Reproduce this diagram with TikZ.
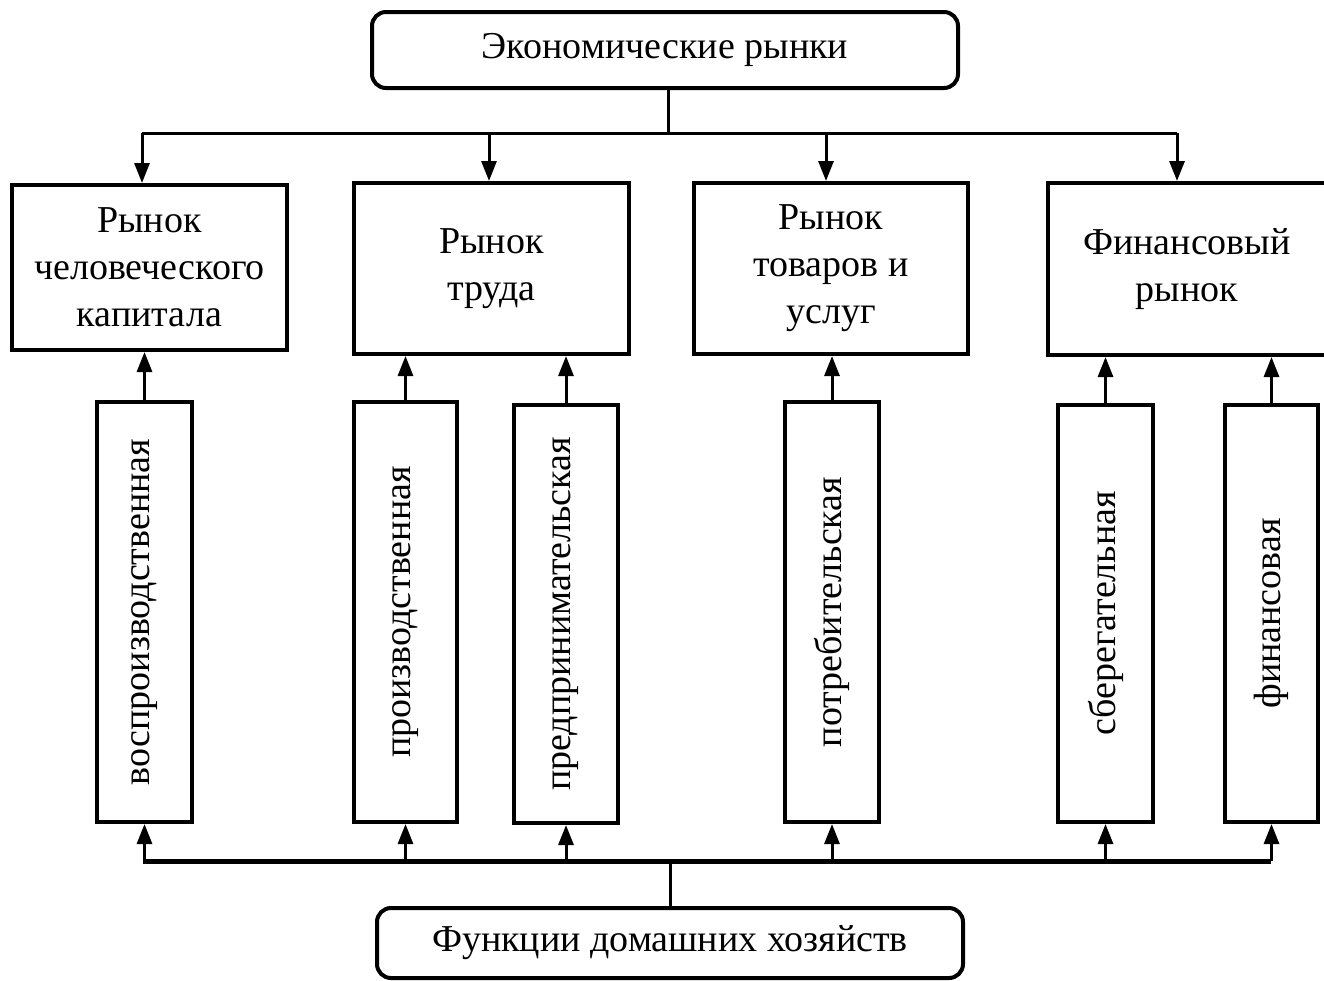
\documentclass[tikz,border=0pt]{standalone}
\usepackage{fontspec}
\setmainfont{Liberation Serif}
\usetikzlibrary{arrows.meta}
\begin{document}
\begin{tikzpicture}[x=1pt,y=-1pt,
  box/.style={draw, line width=4pt, align=center, inner sep=0pt,
    font=\fontsize{38}{47}\selectfont},
  rbox/.style={box, rounded corners=14pt},
  fbox/.style={box, rotate=90},
  conn/.style={line width=3pt},
  arr/.style={line width=3pt, -{Triangle[length=20pt,width=15pt]}},
  bus/.style={line width=5pt}]
\useasboundingbox (0,0) rectangle (1324,980);
\clip (0,0) rectangle (1324,980);
% top and bottom
\node[rbox, minimum width=586, minimum height=76] (top) at (665,50) {Экономические рынки};
\node[rbox, minimum width=586, minimum height=70] (bot) at (670,943) {Функции домашних хозяйств};
% markets
\node[box, minimum width=275, minimum height=165] (m1) at (149.5,267.5) {Рынок\\человеческого\\капитала};
\node[box, minimum width=275, minimum height=171] (m2) at (491.5,268.5) {Рынок\\труда};
\node[box, minimum width=274, minimum height=171] (m3) at (831,268.5) {Рынок\\товаров и\\услуг};
\node[box, minimum width=278, minimum height=172] (m4) at (1187,269) {Финансовый\\рынок};
% functions
\node[fbox, minimum width=420, minimum height=95] (f1) at (144.5,612) {воспроизводственная};
\node[fbox, minimum width=420, minimum height=103] (f2) at (405.5,612) {производственная};
\node[fbox, minimum width=418, minimum height=104] (f3) at (566,614) {предпринимательская};
\node[fbox, minimum width=420, minimum height=94] (f4) at (832,612) {потребительская};
\node[fbox, minimum width=417, minimum height=95] (f5) at (1105.5,613.5) {сберегательная};
\node[fbox, minimum width=417, minimum height=93] (f6) at (1271.5,613.5) {финансовая};
% top distribution
\coordinate (tj) at (668,133);
\coordinate (a1) at (142,133);
\coordinate (a2) at (489,133);
\coordinate (a3) at (826,133);
\coordinate (a4) at (1177,133);
\draw[conn] (top.south -| tj) -- (tj);
\draw[conn] (a1) -- (a4);
\draw[arr] (a1) -- (a1 |- m1.north);
\draw[arr] (a2) -- (a2 |- m2.north);
\draw[arr] (a3) -- (a3 |- m3.north);
\draw[arr] (a4) -- (a4 |- m4.north);
% functions to markets
\draw[arr] (f1.east) -- (f1.east |- m1.south);
\draw[arr] (f2.east) -- (f2.east |- m2.south);
\draw[arr] (f3.east) -- (f3.east |- m2.south);
\draw[arr] (f4.east) -- (f4.east |- m3.south);
\draw[arr] (f5.east) -- (f5.east |- m4.south);
\draw[arr] (f6.east) -- (f6.east |- m4.south);
% bottom bus
\coordinate (bj) at (670,861);
\coordinate (bl) at (143,861);
\coordinate (br) at (1271,861);
\draw[bus] (bl) -- (br);
\draw[conn] (bj) -- (bj |- bot.north);
\draw[arr] (f1.west |- bl) -- (f1.west);
\draw[arr] (f2.west |- bl) -- (f2.west);
\draw[arr] (f3.west |- bl) -- (f3.west);
\draw[arr] (f4.west |- bl) -- (f4.west);
\draw[arr] (f5.west |- bl) -- (f5.west);
\draw[arr] (f6.west |- bl) -- (f6.west);
\end{tikzpicture}
\end{document}
